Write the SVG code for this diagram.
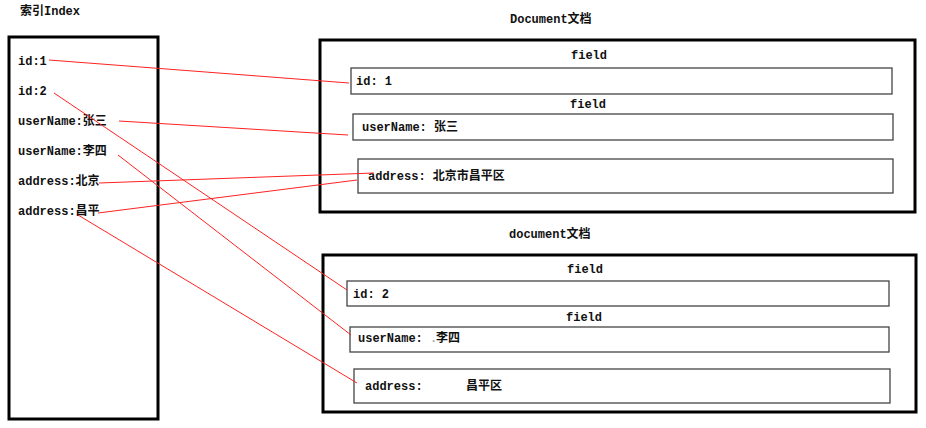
<svg xmlns="http://www.w3.org/2000/svg" width="926" height="428" viewBox="0 0 926 428">
<style>
text{font-family:"Liberation Mono","Noto Sans CJK SC",monospace;font-weight:bold;font-size:12px;fill:#111;dominant-baseline:central}
.outer{fill:none;stroke:#000;stroke-width:3}
.field{fill:#fff;stroke:#444;stroke-width:1.3}
.link{stroke:#f22;stroke-width:1;fill:none}
</style>
<rect width="926" height="428" fill="#fff"/>
<g id="index">
<text x="20" y="11.5">索引Index</text>
<rect class="outer" x="9" y="37" width="149" height="382"/>
<text x="18" y="61.5">id:1</text>
<text x="18" y="91.5">id:2</text>
<text x="18" y="121.5">userName:张三</text>
<text x="18" y="151.5">userName:李四</text>
<text x="18" y="181.5">address:北京</text>
<text x="18" y="211.5">address:昌平</text>
</g>
<g id="doc1">
<text x="510" y="19.5">Document文档</text>
<rect class="outer" x="320" y="40" width="595" height="172"/>
<text x="571" y="55.5">field</text>
<rect class="field" x="351" y="68" width="541" height="26"/>
<text x="356" y="81.5" xml:space="preserve">id: 1</text>
<text x="570" y="104.5">field</text>
<rect class="field" x="353" y="114" width="540" height="26"/>
<text x="362" y="127.5" xml:space="preserve">userName: 张三</text>
<rect class="field" x="358" y="159" width="535" height="34"/>
<text x="368" y="176.5" xml:space="preserve">address: 北京市昌平区</text>
</g>
<g id="doc2">
<text x="509" y="234.5">document文档</text>
<rect class="outer" x="323" y="255" width="593" height="157"/>
<text x="567" y="269.5">field</text>
<rect class="field" x="347" y="281" width="542" height="25"/>
<text x="353" y="294.5" xml:space="preserve">id: 2</text>
<text x="566" y="317.5">field</text>
<rect class="field" x="350" y="327" width="539" height="25"/>
<text x="358" y="338.5" xml:space="preserve">userName: <tspan x="430" fill="#aaa">.</tspan><tspan x="436">李四</tspan></text>
<rect class="field" x="354" y="369" width="536" height="34"/>
<text x="365" y="386.5">address:<tspan x="466">昌平区</tspan></text>
</g>
<g id="connectors">
<line class="link" x1="49" y1="60" x2="349" y2="83"/>
<line class="link" x1="54" y1="93" x2="347" y2="290"/>
<line class="link" x1="119" y1="121" x2="348" y2="135"/>
<line class="link" x1="118" y1="155" x2="351" y2="335"/>
<line class="link" x1="99" y1="183" x2="374" y2="173"/>
<line class="link" x1="98" y1="213" x2="357" y2="180"/>
<line class="link" x1="78" y1="215" x2="357" y2="383"/>
</g>
</svg>
